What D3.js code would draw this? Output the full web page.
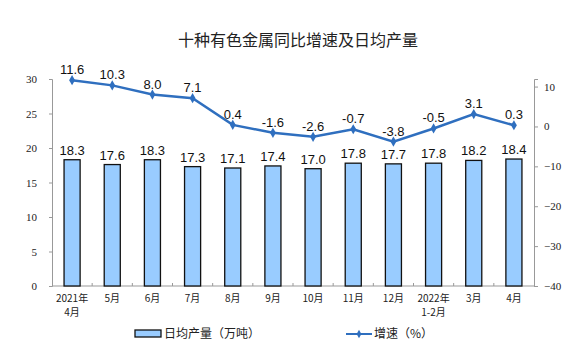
<!DOCTYPE html>
<html><head><meta charset="utf-8">
<script src="https://cdn.jsdelivr.net/npm/d3@7"></script>
<style>body{margin:0;background:#fff}svg{display:block}</style>
</head><body>
<div id="chart"></div>
<script>
const categories = ["2021年\n4月","5月","6月","7月","8月","9月","10月","11月","12月","2022年\n1-2月","3月","4月"];
const output = [18.3,17.6,18.3,17.3,17.1,17.4,17.0,17.8,17.7,17.8,18.2,18.4];
const growth = [11.6,10.3,8.0,7.1,0.4,-1.6,-2.6,-0.7,-3.8,-0.5,3.1,0.3];
const leftTicks = [0,5,10,15,20,25,30];
const rightTicks = [-40,-30,-20,-10,0,10];
const title = "十种有色金属同比增速及日均产量";
const legendBar = "日均产量（万吨）";
const legendLine = "增速（%）";

const W=575,H=355;
const m={l:52,r:41,t:79,b:69};
const svg=d3.select("#chart").append("svg").attr("width",W).attr("height",H);
const x=d3.scaleBand().domain(categories).range([m.l,W-m.r]).paddingInner(0.6).paddingOuter(0.3);
const xb=d3.scaleBand().domain(categories).range([m.l,W-m.r]);
const yL=d3.scaleLinear().domain([0,30]).range([H-m.b,m.t]);
const yR=d3.scaleLinear().domain([-40,11.9]).range([H-m.b,m.t]);
const numFont="'Liberation Serif','Times New Roman',serif";
const cjk="'Noto Sans CJK SC',sans-serif";
const blue="#2f6fbf";

svg.append("text").attr("x",298).attr("y",46).attr("text-anchor","middle")
  .attr("font-family",cjk).attr("font-size",16).attr("fill","#222").text(title);

// left axis
const gL=svg.append("g").attr("transform",`translate(${m.l},0)`)
  .call(d3.axisLeft(yL).tickValues(leftTicks).tickSize(3).tickPadding(12));
gL.select(".domain").attr("stroke","#999");
gL.selectAll(".tick line").attr("stroke","#999");
gL.selectAll("text").attr("font-family",numFont).attr("font-size",11).attr("fill","#222");

// right axis
const gR=svg.append("g").attr("transform",`translate(${W-m.r},0)`)
  .call(d3.axisRight(yR).tickValues(rightTicks).tickSize(4).tickPadding(6));
gR.select(".domain").attr("stroke","#999");
gR.selectAll(".tick line").attr("stroke","#999");
gR.selectAll("text").attr("font-family",numFont).attr("font-size",11).attr("fill","#222");

// bottom axis
svg.append("line").attr("x1",m.l).attr("x2",W-m.r).attr("y1",yL(0)).attr("y2",yL(0)).attr("stroke","#999");
const bnd=categories.map((c,i)=>i).concat([categories.length]);
svg.selectAll(".xt").data(bnd.slice(1,-1)).enter().append("line")
  .attr("x1",i=>m.l+i*xb.step()).attr("x2",i=>m.l+i*xb.step())
  .attr("y1",yL(0)).attr("y2",yL(0)-3).attr("stroke","#999");

// x labels
categories.forEach((c,i)=>{
  const lines=c.split("\n");
  const t=svg.append("text").attr("text-anchor","middle").attr("font-family",cjk).attr("font-size",10).attr("fill","#222");
  lines.forEach((s,j)=>t.append("tspan").attr("x",xb(c)+xb.bandwidth()/2).attr("y",302+j*14).text(s));
});

// bars
svg.selectAll(".bar").data(output).enter().append("rect")
  .attr("x",(d,i)=>x(categories[i])).attr("width",x.bandwidth())
  .attr("y",d=>yL(d)).attr("height",d=>yL(0)-yL(d))
  .attr("fill","#99ccff").attr("stroke","#111").attr("stroke-width",1.3);
svg.selectAll(".bl").data(output).enter().append("text")
  .attr("x",(d,i)=>x(categories[i])+x.bandwidth()/2).attr("y",d=>yL(d)-5)
  .attr("text-anchor","middle").attr("font-family","'Liberation Sans',Arial,sans-serif").attr("font-size",13).attr("fill","#111")
  .text(d=>d.toFixed(1));

// line
const cx=i=>xb(categories[i])+xb.bandwidth()/2;
svg.append("path").datum(growth)
  .attr("d",d3.line().x((d,i)=>cx(i)).y(d=>yR(d)))
  .attr("fill","none").attr("stroke",blue).attr("stroke-width",2.5);
svg.selectAll(".pt").data(growth).enter().append("path")
  .attr("d",d3.symbol(d3.symbolDiamond,30))
  .attr("transform",(d,i)=>`translate(${cx(i)},${yR(d)})`).attr("fill",blue);
svg.selectAll(".ll").data(growth).enter().append("text")
  .attr("x",(d,i)=>cx(i)).attr("y",d=>yR(d)-6)
  .attr("text-anchor","middle").attr("font-family","'Liberation Sans',Arial,sans-serif").attr("font-size",13).attr("fill","#111")
  .text(d=>d.toFixed(1));

// legend
svg.append("rect").attr("x",135).attr("y",330).attr("width",26).attr("height",7)
  .attr("fill","#99ccff").attr("stroke","#111").attr("stroke-width",1.3);
svg.append("text").attr("x",164).attr("y",338).attr("font-family",cjk).attr("font-size",12).attr("fill","#222").text(legendBar);
svg.append("line").attr("x1",346).attr("x2",372).attr("y1",334).attr("y2",334).attr("stroke",blue).attr("stroke-width",2);
svg.append("path").attr("d",d3.symbol(d3.symbolDiamond,20)).attr("transform","translate(359,334)").attr("fill",blue);
svg.append("text").attr("x",374).attr("y",338).attr("font-family",cjk).attr("font-size",12).attr("fill","#222").text(legendLine);
</script>
</body></html>
